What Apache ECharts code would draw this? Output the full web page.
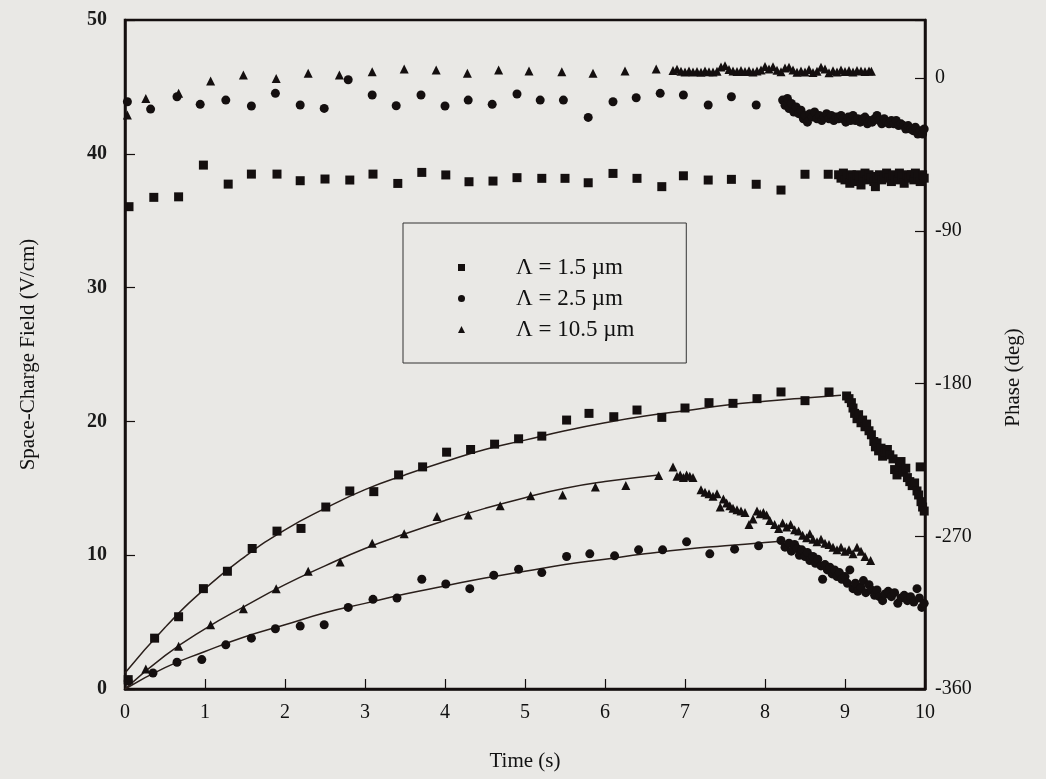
<!DOCTYPE html>
<html lang="en">
<head>
  <meta charset="UTF-8">
  <title>Space-charge field and phase</title>
</head>
<body style="margin:0; background-color:#e9e8e5;">
<div id="main" style="width:1046px; height:779px;"></div>

<script src="https://cdn.jsdelivr.net/npm/echarts@6/dist/echarts.min.js"></script>

<script>
  // legend names
  var names = ['Λ = 1.5 µm', 'Λ = 2.5 µm', 'Λ = 10.5 µm'];

  // amplitude (V/cm) vs time (s)
  var ampSquare = [
    [0.04, 0.7], [0.37, 3.8], [0.67, 5.4], [0.98, 7.5], [1.28, 8.8], [1.59, 10.5], [1.9, 11.8],
    [2.2, 12.0], [2.51, 13.6], [2.81, 14.8], [3.11, 14.75], [3.42, 16.0], [3.72, 16.6], [4.02, 17.7],
    [4.32, 17.9], [4.62, 18.3], [4.92, 18.7], [5.21, 18.9], [5.52, 20.1], [5.8, 20.6], [6.11, 20.35],
    [6.4, 20.85], [6.71, 20.3], [7.0, 21.0], [7.3, 21.4], [7.6, 21.35], [7.9, 21.7], [8.2, 22.2],
    [8.5, 21.55], [8.8, 22.2],
    [9.02, 21.9], [9.05, 21.7], [9.08, 21.4], [9.1, 21.0], [9.12, 20.6], [9.15, 20.2], [9.17, 20.5],
    [9.2, 19.9], [9.22, 20.1], [9.25, 19.6], [9.27, 19.8], [9.3, 19.3], [9.33, 19.0], [9.36, 18.5],
    [9.38, 18.1], [9.4, 18.4], [9.42, 17.8], [9.45, 18.0], [9.47, 17.4], [9.5, 17.7], [9.53, 17.9],
    [9.56, 17.5], [9.6, 17.2], [9.62, 16.4], [9.65, 16.0], [9.68, 16.6], [9.7, 17.0], [9.73, 16.2],
    [9.76, 16.5], [9.78, 15.8], [9.81, 15.5], [9.84, 15.2], [9.87, 15.4], [9.9, 14.8], [9.92, 14.5],
    [9.94, 16.6], [9.95, 14.0], [9.97, 13.6], [9.99, 13.3]
  ];
  var ampCircle = [
    [0.04, 0.6], [0.35, 1.2], [0.65, 2.0], [0.96, 2.2], [1.26, 3.3], [1.58, 3.8], [1.88, 4.5],
    [2.19, 4.7], [2.49, 4.8], [2.79, 6.1], [3.1, 6.7], [3.4, 6.8], [3.71, 8.2], [4.01, 7.85],
    [4.31, 7.5], [4.61, 8.5], [4.92, 8.95], [5.21, 8.7], [5.52, 9.9], [5.81, 10.1], [6.12, 9.95],
    [6.42, 10.4], [6.72, 10.4], [7.02, 11.0], [7.31, 10.1], [7.62, 10.45], [7.92, 10.7],
    [8.2, 11.1], [8.25, 10.6], [8.3, 10.9], [8.33, 10.3], [8.37, 10.8], [8.4, 10.5], [8.43, 10.0],
    [8.46, 10.4], [8.5, 9.9], [8.53, 10.2], [8.56, 9.6], [8.6, 9.9], [8.63, 9.4], [8.66, 9.7],
    [8.7, 9.2], [8.72, 8.2], [8.75, 9.3], [8.78, 8.9], [8.81, 9.1], [8.84, 8.6], [8.87, 8.9],
    [8.9, 8.4], [8.93, 8.7], [8.96, 8.2], [9.0, 8.4], [9.03, 7.9], [9.06, 8.9], [9.1, 7.5],
    [9.13, 7.9], [9.16, 7.3], [9.2, 7.6], [9.23, 8.1], [9.26, 7.2], [9.3, 7.8], [9.33, 7.4],
    [9.37, 7.0], [9.4, 7.4], [9.43, 6.9], [9.47, 6.6], [9.5, 7.1], [9.54, 7.3], [9.58, 6.9],
    [9.62, 7.2], [9.66, 6.4], [9.7, 6.8], [9.74, 7.0], [9.78, 6.6], [9.82, 6.9], [9.86, 6.5],
    [9.9, 7.5], [9.93, 6.8], [9.96, 6.1], [9.99, 6.4]
  ];
  var ampTriangle = [
    [0.04, 0.7], [0.26, 1.5], [0.67, 3.2], [1.07, 4.8], [1.48, 6.0], [1.89, 7.5], [2.29, 8.8],
    [2.69, 9.5], [3.09, 10.9], [3.49, 11.6], [3.9, 12.9], [4.29, 13.0], [4.69, 13.7], [5.07, 14.45],
    [5.47, 14.5], [5.88, 15.1], [6.26, 15.2], [6.67, 15.95],
    [6.85, 16.6], [6.9, 15.9], [6.94, 16.0], [6.98, 15.8], [7.02, 16.0], [7.06, 15.9], [7.1, 15.8],
    [7.2, 14.9], [7.25, 14.7], [7.3, 14.6], [7.35, 14.4], [7.4, 14.6], [7.44, 13.6], [7.48, 14.2],
    [7.52, 13.9], [7.56, 13.7], [7.6, 13.5], [7.65, 13.4], [7.7, 13.3], [7.75, 13.2], [7.8, 12.3],
    [7.85, 12.7], [7.9, 13.3], [7.94, 13.1], [7.98, 13.2], [8.02, 13.0], [8.06, 12.6], [8.12, 12.3],
    [8.17, 12.0], [8.22, 12.4], [8.27, 12.1], [8.32, 12.3], [8.37, 11.9], [8.42, 11.8], [8.47, 11.5],
    [8.52, 11.3], [8.56, 11.6], [8.6, 11.2], [8.65, 11.0], [8.7, 11.2], [8.75, 10.9], [8.8, 10.8],
    [8.85, 10.6], [8.9, 10.4], [8.95, 10.6], [9.0, 10.3], [9.05, 10.4], [9.1, 10.1], [9.15, 10.6],
    [9.2, 10.3], [9.25, 9.9], [9.32, 9.6]
  ];

  // fitted curves
  var fitSquare = [
    [0, 1.2], [0.5, 4.6], [1, 7.5], [1.5, 9.9], [2, 11.9], [2.5, 13.5], [3, 14.9], [3.5, 16.0],
    [4, 17.0], [4.5, 17.9], [5, 18.6], [5.5, 19.3], [6, 19.9], [6.5, 20.4], [7, 20.8], [7.5, 21.2],
    [8, 21.5], [8.5, 21.75], [8.95, 21.95]
  ];
  var fitCircle = [
    [0, 0], [0.5, 1.6], [1, 2.8], [1.5, 3.9], [2, 4.8], [2.5, 5.7], [3, 6.4], [3.5, 7.1], [4, 7.7],
    [4.5, 8.3], [5, 8.8], [5.5, 9.3], [6, 9.7], [6.5, 10.1], [7, 10.45], [7.5, 10.7], [8, 10.95],
    [8.2, 11.05]
  ];
  var fitTriangle = [
    [0, 0], [0.5, 2.5], [1, 4.5], [1.5, 6.2], [2, 7.8], [2.5, 9.2], [3, 10.5], [3.5, 11.6],
    [4, 12.6], [4.5, 13.5], [5, 14.3], [5.5, 15.0], [6, 15.5], [6.67, 16.0]
  ];

  // phase (deg) vs time (s)
  var phaseSquare = [
    [0.05, -75.8], [0.36, -70.3], [0.67, -70.0], [0.98, -51.3], [1.29, -62.5], [1.58, -56.6],
    [1.9, -56.6], [2.19, -60.5], [2.5, -59.5], [2.81, -60.1], [3.1, -56.6], [3.41, -62.1],
    [3.71, -55.6], [4.01, -57.1], [4.3, -61.1], [4.6, -60.7], [4.9, -58.7], [5.21, -59.1],
    [5.5, -59.1], [5.79, -61.7], [6.1, -56.2], [6.4, -59.1], [6.71, -64.0], [6.98, -57.6],
    [7.29, -60.1], [7.58, -59.7], [7.89, -62.6], [8.2, -66.0], [8.5, -56.7], [8.79, -56.7],
    [8.92, -57], [8.95, -59], [8.98, -56], [9.0, -60], [9.03, -58], [9.06, -62], [9.08, -57],
    [9.1, -59], [9.13, -61], [9.15, -57], [9.18, -58], [9.2, -63], [9.23, -58], [9.25, -56],
    [9.28, -60], [9.3, -57], [9.33, -59], [9.36, -61], [9.38, -64], [9.4, -58], [9.43, -57],
    [9.46, -60], [9.49, -58], [9.52, -56], [9.55, -59], [9.58, -61], [9.6, -57], [9.63, -58],
    [9.66, -60], [9.68, -56], [9.71, -58], [9.74, -62], [9.77, -57], [9.8, -59], [9.83, -57],
    [9.86, -60], [9.88, -56], [9.91, -58], [9.94, -61], [9.97, -57], [9.99, -59]
  ];
  var phaseCircle = [
    [0.03, -14.0], [0.32, -18.3], [0.65, -11.0], [0.94, -15.5], [1.26, -13.0], [1.58, -16.5],
    [1.88, -9.0], [2.19, -15.9], [2.49, -17.9], [2.79, -1.0], [3.09, -10.0], [3.39, -16.3],
    [3.7, -10.0], [4.0, -16.5], [4.29, -13.0], [4.59, -15.5], [4.9, -9.4], [5.19, -13.0],
    [5.48, -13.0], [5.79, -23.2], [6.1, -14.0], [6.39, -11.6], [6.69, -9.0], [6.98, -10.0],
    [7.29, -15.9], [7.58, -11.0], [7.89, -15.9],
    [8.22, -13], [8.25, -16], [8.28, -12], [8.3, -18], [8.33, -15], [8.36, -20], [8.39, -17],
    [8.42, -21], [8.45, -19], [8.48, -24], [8.5, -22], [8.53, -26], [8.56, -21], [8.59, -23],
    [8.62, -20], [8.65, -24], [8.68, -22], [8.71, -25], [8.74, -23], [8.77, -21], [8.8, -24],
    [8.83, -22], [8.86, -25], [8.89, -23], [8.92, -24], [8.95, -22], [8.98, -24], [9.01, -26],
    [9.04, -23], [9.07, -25], [9.1, -22], [9.13, -25], [9.16, -24], [9.19, -26], [9.22, -24],
    [9.25, -23], [9.28, -27], [9.31, -25], [9.34, -26], [9.37, -24], [9.4, -22], [9.43, -25],
    [9.46, -27], [9.49, -24], [9.52, -26], [9.55, -27], [9.58, -25], [9.61, -27], [9.64, -25],
    [9.67, -28], [9.7, -27], [9.73, -28], [9.76, -30], [9.79, -28], [9.82, -30], [9.85, -31],
    [9.88, -29], [9.91, -33], [9.94, -31], [9.97, -33], [9.99, -30]
  ];
  var phaseTriangle = [
    [0.03, -21.8], [0.26, -12.0], [0.67, -9.0], [1.07, -1.8], [1.48, 1.8], [1.89, -0.2],
    [2.29, 2.8], [2.68, 1.8], [3.09, 3.7], [3.49, 5.3], [3.89, 4.7], [4.28, 2.8], [4.67, 4.7],
    [5.05, 4.1], [5.46, 3.7], [5.85, 2.8], [6.25, 4.1], [6.64, 5.3],
    [6.85, 4.5], [6.9, 5.2], [6.95, 4.0], [7.0, 3.6], [7.05, 4.1], [7.1, 3.5], [7.15, 3.9],
    [7.2, 3.4], [7.25, 4.2], [7.3, 3.7], [7.35, 3.5], [7.4, 4.0], [7.45, 6.5], [7.5, 7.2],
    [7.55, 5.0], [7.6, 4.2], [7.65, 3.8], [7.7, 4.5], [7.75, 3.9], [7.8, 4.3], [7.85, 3.6],
    [7.9, 4.1], [7.95, 4.7], [8.0, 6.8], [8.05, 5.4], [8.1, 6.6], [8.15, 4.6], [8.2, 3.7],
    [8.25, 5.9], [8.3, 6.3], [8.35, 4.8], [8.4, 3.4], [8.45, 4.2], [8.5, 3.6], [8.55, 5.0],
    [8.6, 3.2], [8.65, 4.0], [8.7, 6.4], [8.75, 5.3], [8.8, 3.1], [8.85, 4.3], [8.9, 3.5],
    [8.95, 4.8], [9.0, 3.9], [9.05, 4.5], [9.1, 3.6], [9.15, 4.4], [9.2, 4.1], [9.25, 3.8],
    [9.3, 4.2], [9.33, 4.0]
  ];

  var ink = '#140f0f';
  var serif = 'Liberation Serif';

  function pts(name, data, symbol, size, axis) {
    return {
      name: name,
      type: 'scatter',
      yAxisIndex: axis,
      symbol: symbol,
      symbolSize: size,
      data: data,
      itemStyle: { color: ink, opacity: 1 },
      z: 3
    };
  }
  function fit(data) {
    return {
      name: 'fit',
      type: 'line',
      data: data,
      smooth: true,
      showSymbol: false,
      lineStyle: { color: '#2a1f1b', width: 1.5 },
      z: 2
    };
  }

  var chart = echarts.init(document.getElementById('main'));

  var option = {
    backgroundColor: '#e9e8e5',
    animation: false,
    grid: {
      left: 125, right: 121, top: 20, bottom: 90,
      show: true,
      borderColor: ink,
      borderWidth: 2.5
    },
    legend: {
      data: names,
      orient: 'vertical',
      left: 403,
      top: 223,
      padding: [33, 52, 22, 55],
      itemGap: 8,
      itemWidth: 7,
      itemHeight: 7,
      borderColor: '#333',
      borderWidth: 1,
      textStyle: {
        fontFamily: serif,
        fontSize: 23,
        color: '#111',
        padding: [0, 0, 0, 46]
      }
    },
    xAxis: {
      type: 'value',
      min: 0, max: 10, interval: 1,
      name: 'Time (s)',
      nameLocation: 'middle',
      nameGap: 62,
      nameTextStyle: { fontFamily: serif, fontSize: 21, color: '#111' },
      axisLine: { lineStyle: { color: ink, width: 2.5 } },
      axisTick: { inside: true, length: 10, lineStyle: { color: ink, width: 1.2 } },
      axisLabel: { fontFamily: serif, fontSize: 20, color: '#111', margin: 14 },
      splitLine: { show: false }
    },
    yAxis: [
      {
        type: 'value',
        position: 'left',
        min: 0, max: 50, interval: 10,
        name: 'Space-Charge Field (V/cm)',
        nameLocation: 'middle',
        nameGap: 86,
        nameTextStyle: { fontFamily: serif, fontSize: 21, color: '#111' },
        axisLine: { show: true, lineStyle: { color: ink, width: 2.5 } },
        axisTick: { inside: true, length: 10, lineStyle: { color: ink, width: 1.2 } },
        axisLabel: { fontFamily: serif, fontSize: 20, fontWeight: 'bold', color: '#1a1a1a', margin: 18 },
        splitLine: { show: false }
      },
      {
        type: 'value',
        position: 'right',
        min: -360, max: 34.2, interval: 90,
        name: 'Phase (deg)',
        nameLocation: 'middle',
        nameRotate: 90,
        nameGap: 78,
        nameTextStyle: { fontFamily: serif, fontSize: 21, color: '#111', padding: [0, 46, 0, 0] },
        axisLine: { show: true, lineStyle: { color: ink, width: 2.5 } },
        axisTick: { inside: true, length: 10, lineStyle: { color: ink, width: 1.2 } },
        axisLabel: {
          fontFamily: serif, fontSize: 20, color: '#111', margin: 10,
          formatter: function (v) { return v % 90 === 0 ? String(v) : ''; }
        },
        splitLine: { show: false }
      }
    ],
    series: [
      fit(fitSquare),
      fit(fitCircle),
      fit(fitTriangle),
      pts(names[0], ampSquare, 'rect', 9, 0),
      pts(names[1], ampCircle, 'circle', 9, 0),
      pts(names[2], ampTriangle, 'triangle', 9, 0),
      pts(names[0], phaseSquare, 'rect', 9, 1),
      pts(names[1], phaseCircle, 'circle', 9, 1),
      pts(names[2], phaseTriangle, 'triangle', 9, 1)
    ]
  };

  chart.setOption(option);
</script>
</body>
</html>
